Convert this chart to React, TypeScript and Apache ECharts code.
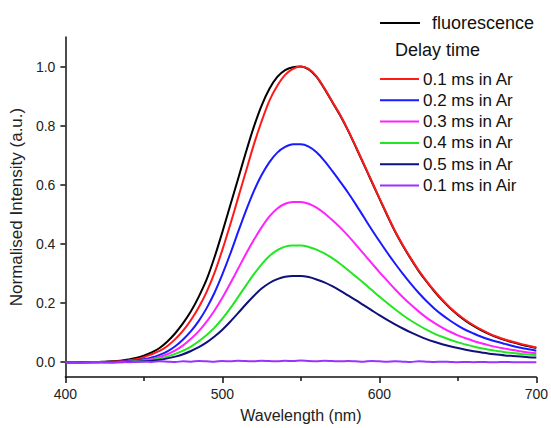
import React, { useEffect, useRef } from "react";
import * as echarts from "echarts";

const wavelengths = [
  400, 405, 410, 415, 420, 425, 430, 435, 440, 445, 450, 455, 460, 465, 470, 475, 480, 485, 490, 495,
  500, 505, 510, 515, 520, 525, 530, 535, 540, 545, 550, 555, 560, 565, 570, 575, 580, 585, 590, 595,
  600, 605, 610, 615, 620, 625, 630, 635, 640, 645, 650, 655, 660, 665, 670, 675, 680, 685, 690, 695, 700,
];

const fluorescence = [
  0.0, 0.0, 0.0, 0.001, 0.001, 0.002, 0.003, 0.005, 0.009, 0.014, 0.022, 0.033, 0.048, 0.07, 0.098, 0.132, 0.172, 0.222, 0.28, 0.355,
  0.44, 0.53, 0.62, 0.71, 0.795, 0.868, 0.925, 0.965, 0.988, 0.998, 1.0, 0.99, 0.965, 0.925, 0.88, 0.835, 0.784, 0.728, 0.67, 0.612,
  0.554, 0.497, 0.442, 0.394, 0.35, 0.309, 0.273, 0.24, 0.21, 0.183, 0.16, 0.14, 0.123, 0.108, 0.095, 0.084, 0.075, 0.067, 0.06, 0.054, 0.048,
];

const ar01 = [
  0.0, 0.0, 0.0, 0.0, 0.001, 0.001, 0.002, 0.003, 0.006, 0.01, 0.017, 0.027, 0.038, 0.055, 0.078, 0.107, 0.143, 0.186, 0.238, 0.302,
  0.38, 0.465, 0.555, 0.645, 0.735, 0.815, 0.885, 0.935, 0.972, 0.992, 1.0, 0.992, 0.967, 0.927, 0.882, 0.837, 0.786, 0.73, 0.672, 0.614,
  0.556, 0.499, 0.444, 0.396, 0.352, 0.311, 0.275, 0.242, 0.212, 0.185, 0.162, 0.142, 0.125, 0.11, 0.097, 0.086, 0.077, 0.069, 0.062, 0.056, 0.05,
];

const ar02 = [
  0.0, 0.0, 0.0, 0.0, 0.0, 0.001, 0.001, 0.002, 0.003, 0.006, 0.01, 0.016, 0.025, 0.037, 0.054, 0.077, 0.105, 0.14, 0.183, 0.235,
  0.297, 0.366, 0.44, 0.512, 0.578, 0.633, 0.677, 0.709, 0.728, 0.737, 0.737, 0.729, 0.71, 0.681, 0.647, 0.611, 0.574, 0.534, 0.492, 0.45,
  0.41, 0.371, 0.334, 0.299, 0.266, 0.235, 0.207, 0.182, 0.16, 0.141, 0.124, 0.109, 0.097, 0.086, 0.077, 0.069, 0.062, 0.055, 0.049, 0.044, 0.039,
];

const ar03 = [
  0.0, 0.0, 0.0, 0.0, 0.0, 0.0, 0.001, 0.001, 0.002, 0.004, 0.007, 0.011, 0.018, 0.027, 0.04, 0.057, 0.079, 0.105, 0.137, 0.175,
  0.218, 0.266, 0.316, 0.366, 0.413, 0.456, 0.493, 0.52, 0.536, 0.542, 0.542, 0.536, 0.523, 0.504, 0.481, 0.456, 0.428, 0.398, 0.367, 0.336,
  0.305, 0.276, 0.247, 0.22, 0.195, 0.172, 0.151, 0.133, 0.117, 0.103, 0.091, 0.081, 0.072, 0.064, 0.057, 0.051, 0.046, 0.041, 0.037, 0.033, 0.03,
];

const ar04 = [
  0.0, 0.0, 0.0, 0.0, 0.0, 0.0, 0.0, 0.001, 0.001, 0.003, 0.005, 0.008, 0.013, 0.019, 0.028, 0.039, 0.053, 0.071, 0.092, 0.117,
  0.147, 0.182, 0.22, 0.259, 0.297, 0.331, 0.359, 0.379, 0.391, 0.395, 0.395, 0.39, 0.381, 0.368, 0.352, 0.333, 0.312, 0.29, 0.268, 0.245,
  0.222, 0.2, 0.179, 0.159, 0.141, 0.125, 0.11, 0.097, 0.086, 0.076, 0.067, 0.06, 0.053, 0.047, 0.042, 0.038, 0.034, 0.031, 0.028, 0.026, 0.024,
];

const ar05 = [
  0.0, 0.0, 0.0, 0.0, 0.0, 0.0, 0.0, 0.0, 0.001, 0.002, 0.003, 0.005, 0.008, 0.013, 0.019, 0.027, 0.038, 0.051, 0.067, 0.087,
  0.11, 0.137, 0.166, 0.196, 0.224, 0.249, 0.268, 0.281, 0.289, 0.292, 0.292, 0.288, 0.28, 0.27, 0.257, 0.242, 0.226, 0.21, 0.193, 0.176,
  0.159, 0.143, 0.128, 0.114, 0.101, 0.089, 0.078, 0.069, 0.061, 0.054, 0.048, 0.042, 0.037, 0.033, 0.029, 0.026, 0.023, 0.021, 0.019, 0.017, 0.016,
];

const air01 = [
  0.0, 0.0, -0.001, 0.0, 0.001, 0.0, -0.001, 0.001, 0.0, 0.001, 0.002, 0.001, 0.003, 0.002, 0.001, 0.003, 0.002, 0.004, 0.003, 0.002,
  0.004, 0.003, 0.005, 0.004, 0.003, 0.005, 0.004, 0.003, 0.005, 0.004, 0.006, 0.004, 0.003, 0.005, 0.004, 0.003, 0.004, 0.003, 0.002, 0.004,
  0.003, 0.002, 0.003, 0.002, 0.001, 0.003, 0.002, 0.001, 0.002, 0.001, 0.0, 0.001, 0.0, 0.001, 0.0, 0.0, 0.001, 0.0, 0.0, 0.0, 0.0,
];

const seriesNames = [
  "fluorescence",
  "0.1 ms in Ar",
  "0.2 ms in Ar",
  "0.3 ms in Ar",
  "0.4 ms in Ar",
  "0.5 ms in Ar",
  "0.1 ms in Air",
];
const seriesValues = [fluorescence, ar01, ar02, ar03, ar04, ar05, air01];
const seriesColors = ["#000000", "#ff1a1a", "#1a1aff", "#ff22ff", "#22e622", "#10107a", "#9a33ff"];

const xTicks = [400, 500, 600, 700];
const yTicks = [0, 0.2, 0.4, 0.6, 0.8, 1.0];

export default function App() {
  const ref = useRef<HTMLDivElement>(null);

  useEffect(() => {
    if (!ref.current) return;
    const chart = echarts.init(ref.current, undefined, { renderer: "svg" });

    const series = seriesNames.map((name, k) => ({
      name,
      type: "line",
      data: wavelengths.map((w, i) => [w, seriesValues[k][i]]),
      showSymbol: false,
      symbol: "none",
      smooth: 0.3,
      lineStyle: { color: seriesColors[k], width: 2 },
      itemStyle: { color: seriesColors[k] },
      z: 2 + k,
    }));

    const option: any = {
      animation: false,
      backgroundColor: "#ffffff",
      textStyle: { fontFamily: "Liberation Sans, Arial, sans-serif" },
      grid: { left: 65, right: 13, top: 37, bottom: 45, containLabel: false },
      xAxis: {
        type: "value",
        min: 400,
        max: 700,
        interval: 100,
        name: "Wavelength (nm)",
        nameLocation: "middle",
        nameGap: 30,
        nameTextStyle: { fontSize: 16, color: "#222" },
        axisLine: { onZero: false, lineStyle: { color: "#111", width: 1.5 } },
        axisTick: { show: true, length: 6, lineStyle: { color: "#111", width: 1.5 } },
        minorTick: { show: true, splitNumber: 2, length: 4, lineStyle: { color: "#111", width: 1.5 } },
        axisLabel: {
          fontSize: 14,
          color: "#222",
          margin: 10,
          formatter: (v: number) => (xTicks.includes(v) ? String(v) : ""),
        },
        splitLine: { show: false },
        minorSplitLine: { show: false },
      },
      yAxis: {
        type: "value",
        min: -0.05,
        max: 1.1,
        name: "Normalised Intensity (a.u.)",
        nameLocation: "middle",
        nameGap: 27,
        nameTextStyle: { fontSize: 17, color: "#222" },
        axisLine: { show: true, onZero: false, lineStyle: { color: "#111", width: 1.5 } },
        axisTick: { show: true, length: 5, customValues: yTicks, lineStyle: { color: "#111", width: 1.5 } },
        axisLabel: {
          fontSize: 14,
          color: "#222",
          margin: 10,
          customValues: yTicks,
          formatter: (v: number) => v.toFixed(1),
        },
        splitLine: { show: false },
      },
      legend: [
        {
          data: ["fluorescence"],
          left: 380,
          top: 14,
          padding: 0,
          orient: "vertical",
          icon: "rect",
          itemWidth: 40,
          itemHeight: 2,
          textStyle: { fontSize: 18, color: "#111", padding: [0, 0, 0, 7], lineHeight: 18 },
        },
        {
          data: seriesNames.slice(1),
          left: 380,
          top: 70.5,
          padding: 0,
          orient: "vertical",
          icon: "rect",
          itemWidth: 39,
          itemHeight: 2,
          itemGap: 4.3,
          textStyle: { fontSize: 17, color: "#111", padding: [0, 0, 0, -1], lineHeight: 17 },
        },
      ],
      graphic: [
        {
          type: "text",
          left: 395,
          top: 41,
          style: { text: "Delay time", fontSize: 18, fill: "#111", fontFamily: "Liberation Sans, Arial, sans-serif" },
        },
      ],
      series,
    };

    chart.setOption(option);
    return () => chart.dispose();
  }, []);

  return <div ref={ref} style={{ width: 551, height: 428, position: "absolute", left: 0, top: 0 }} />;
}
